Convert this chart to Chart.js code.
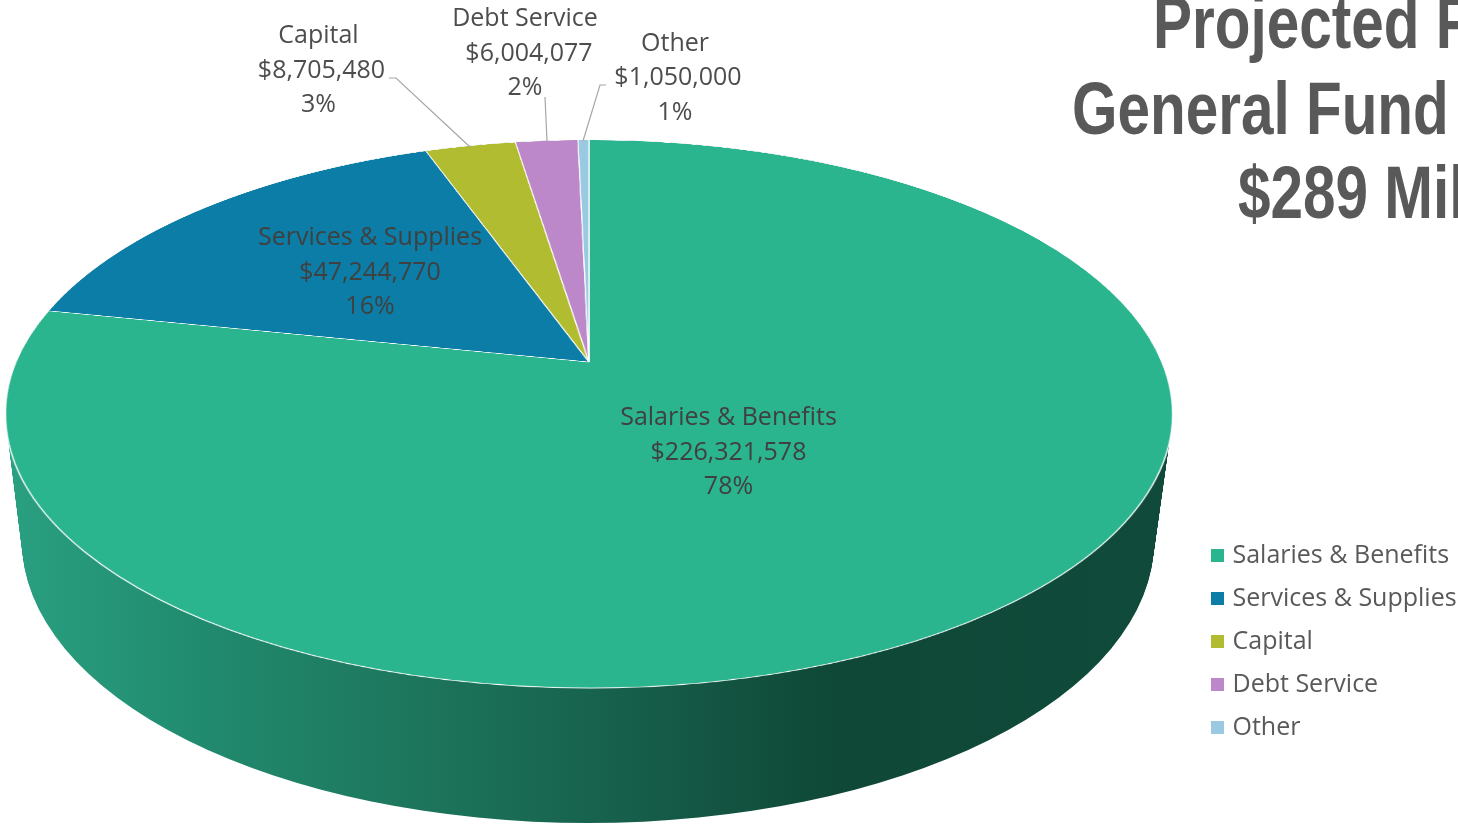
<!DOCTYPE html>
<html>
<head>
<meta charset="utf-8">
<title>General Fund</title>
<script src="https://cdn.jsdelivr.net/npm/chart.js@4"></script>
<style>
  html, body { margin: 0; padding: 0; background: #fff; overflow: hidden; }
  #stage { position: relative; width: 1458px; height: 825px; overflow: hidden; }
  #stage canvas { position: absolute; left: 0; top: 0; }
  #pie { transform-origin: 0 0; }
</style>
</head>
<body>
<div id="stage">
  <canvas id="wall" width="1458" height="825"></canvas>
  <canvas id="pie" width="1300" height="1300"></canvas>
  <canvas id="labels" width="1458" height="825"></canvas>
</div>
<script>
const categories = ['Salaries & Benefits', 'Services & Supplies', 'Capital', 'Debt Service', 'Other'];
const amounts = [226321578, 47244770, 8705480, 6004077, 1050000];
const percents = ['78%', '16%', '3%', '2%', '1%'];
const titleLines = ['Projected F', 'General Fund', '$289 Mil'];

const sliceColors = ['#2bb58f', '#0c7da6', '#b1bc30', '#bd88c9', '#9ac9e2'];
const labelFont = '25px "Open Sans"';

// where each label block sits, and its leader line if it has one
const labelBoxes = [
  { x: 728.5, y: 418, dark: true },
  { x: 370, y: 238, dark: true },
  { x: 318.5, y: 36, moneyShift: 3, leader: [[389, 78], [396, 78], [470, 147]] },
  { x: 525, y: 19, moneyShift: 4, leader: [[545, 97], [547, 141]] },
  { x: 675, y: 43.5, moneyShift: 3, leader: [[606, 85], [600, 85], [583, 141]] }
];

// left edge and baseline of each title line
const titleSpots = [[1153, 48], [1072, 134], [1238, 218]];

// projection of the flat disc: centre point, far and near rim, widest rim
const view = { cx: 589, apexY: 362, farY: 140, nearY: 688, halfWidth: 583.5 };

function drawWall() {
  const ctx = document.getElementById('wall').getContext('2d');
  const shade = ctx.createLinearGradient(10, 0, 1170, 0);
  shade.addColorStop(0, '#2aa081');
  shade.addColorStop(0.16, '#218b6f');
  shade.addColorStop(0.34, '#1d775d');
  shade.addColorStop(0.51, '#17624d');
  shade.addColorStop(0.71, '#0f4837');
  shade.addColorStop(1, '#104a3a');
  ctx.fillStyle = shade;

  // sweep the rim from the top face down to the bottom face
  const steps = 80;
  for (let i = 0; i <= steps; i++) {
    const t = i / steps;
    ctx.beginPath();
    ctx.ellipse(589 - t, 414 + 127 * t, 583 - 17 * t, 274 + 8 * t, 0, 0, Math.PI * 2);
    ctx.fill();
  }
}

function tiltPie(chart) {
  const arc = chart.getDatasetMeta(0).data[0];
  const R = arc.outerRadius;
  const far = view.apexY - view.farY;
  const near = view.nearY - view.apexY;
  const c = (far - near) / (far + near);
  const b = far * (1 - c);
  const a = view.halfWidth * Math.sqrt(1 - c * c);

  // homography taking the canvas circle onto the tilted disc
  const w0 = 1 - c * arc.y / R;
  const wy = c / R;
  const matrix = [
    a / R, 0, 0, 0,
    view.cx * wy, (b + view.apexY * c) / R, 0, wy,
    0, 0, 1, 0,
    -a * arc.x / R + view.cx * w0, -b * arc.y / R + view.apexY * w0, 0, w0
  ];
  chart.canvas.style.transform = `matrix3d(${matrix.join(',')})`;
}

const labelPlugin = {
  id: 'labelPlugin',
  afterLayout(chart) {
    // legend column sits low on the right, not centred
    chart.legend.left = 1197;
    chart.legend.top = 525;
  },
  afterDraw(chart) {
    const ctx = chart.ctx;
    ctx.save();

    // narrow bold face: squeeze Liberation Sans sideways
    ctx.font = 'bold 74px "Liberation Sans"';
    ctx.fillStyle = '#595959';
    ctx.textAlign = 'left';
    ctx.textBaseline = 'alphabetic';
    titleLines.forEach((line, i) => {
      ctx.save();
      ctx.translate(titleSpots[i][0], titleSpots[i][1]);
      ctx.scale(0.79, 1);
      ctx.fillText(line, 0, 0);
      ctx.restore();
    });

    ctx.strokeStyle = '#a6a6a6';
    ctx.lineWidth = 1.2;
    ctx.font = labelFont;
    ctx.textAlign = 'center';
    ctx.textBaseline = 'middle';
    labelBoxes.forEach((box, i) => {
      if (box.leader) {
        ctx.beginPath();
        box.leader.forEach(([x, y], k) => (k ? ctx.lineTo(x, y) : ctx.moveTo(x, y)));
        ctx.stroke();
      }
      ctx.fillStyle = box.dark ? '#404040' : '#4d4d4d';
      ctx.fillText(categories[i], box.x, box.y);
      ctx.fillText('$' + amounts[i].toLocaleString('en-US'), box.x + (box.moneyShift || 0), box.y + 34.5);
      ctx.fillText(percents[i], box.x, box.y + 69);
    });
    ctx.restore();
  }
};

drawWall();

const pieChart = new Chart(document.getElementById('pie'), {
  type: 'pie',
  data: {
    labels: categories,
    datasets: [{
      data: amounts,
      backgroundColor: sliceColors,
      borderColor: '#ffffff',
      borderWidth: 1.4
    }]
  },
  options: {
    responsive: false,
    animation: false,
    radius: 640,
    plugins: { legend: { display: false }, tooltip: { enabled: false } }
  }
});
tiltPie(pieChart);

new Chart(document.getElementById('labels'), {
  type: 'pie',
  data: {
    labels: categories,
    datasets: [{ data: amounts, backgroundColor: 'transparent', borderWidth: 0 }]
  },
  options: {
    responsive: false,
    animation: false,
    plugins: {
      tooltip: { enabled: false },
      legend: {
        position: 'right',
        align: 'start',
        labels: {
          color: '#595959',
          font: { family: 'Open Sans', size: 25, lineHeight: 1 },
          padding: 18,
          usePointStyle: true,
          pointStyle: 'rect',
          boxWidth: 5,
          boxHeight: 13,
          generateLabels: () => categories.map((name, i) => ({
            text: name,
            fontColor: '#595959',
            fillStyle: sliceColors[i],
            strokeStyle: sliceColors[i],
            lineWidth: 0,
            pointStyle: 'rect',
            index: i
          }))
        }
      }
    }
  },
  plugins: [labelPlugin]
});
</script>
</body>
</html>
